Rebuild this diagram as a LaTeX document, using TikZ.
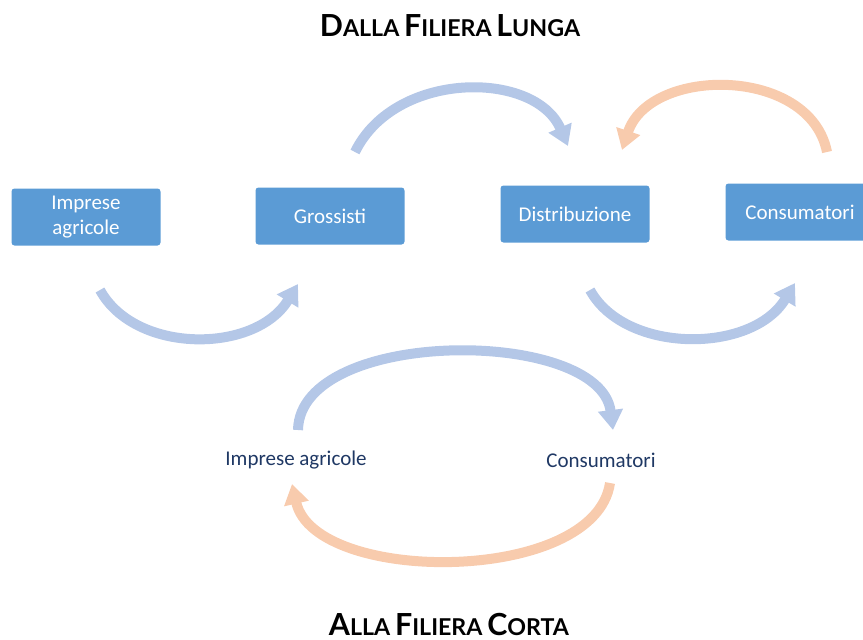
\documentclass[tikz,border=0pt]{standalone}
\usepackage{fontspec}
\setmainfont{Carlito}
\newfontfamily\latofont{Lato}
\usetikzlibrary{positioning}
\usetikzlibrary{arrows.meta}

\definecolor{boxblue}{HTML}{5B9BD5}
\definecolor{flowblue}{HTML}{B4C7E7}
\definecolor{floworange}{HTML}{F8CBAD}
\definecolor{navy}{HTML}{1F3864}

\newcommand\bigsmall[2]{{\fontsize{15.2}{16}\selectfont #1}{\fontsize{11.6}{13}\selectfont #2}}

\tikzset{
  box/.style={fill=boxblue, rounded corners=1.5pt, minimum width=74.5pt, minimum height=28.5pt,
    inner sep=0pt, text=white, align=center, font=\fontsize{10.5}{12.5}\selectfont},
  plain/.style={text=navy, font=\fontsize{10.5}{12.5}\selectfont},
  heading/.style={font=\latofont\bfseries, anchor=base},
  flow/.style={line width=5pt, -{Triangle[length=10pt,width=12pt]}}
}

\begin{document}
\begin{tikzpicture}[x=0.5pt, y=-0.5pt]
  \useasboundingbox (0,0) rectangle (863,639);

  \node[heading] (lunga) at (450,36) {\bigsmall{D}{ALLA} \bigsmall{F}{ILIERA} \bigsmall{L}{UNGA}};
  \node[heading] (corta) at (449,635) {\bigsmall{A}{LLA} \bigsmall{F}{ILIERA} \bigsmall{C}{ORTA}};

  \node[box] (imprese) at (86,217) {Imprese\\agricole};
  \node[box] (grossisti) at (330,216) {Grossisti};
  \node[box] (distrib) at (575,214) {Distribuzione};
  \node[box] (consum) at (800,212) {Consumatori};

  \node[plain] (impcorta) at (296,460) {Imprese agricole};
  \node[plain] (concorta) at (601,460) {Consumatori};

  % estremi delle frecce
  \coordinate (a1) at (100,290);   \coordinate (b1) at (298,284);
  \coordinate (a2) at (355,152);   \coordinate (b2) at (568,146);
  \coordinate (a3) at (590,290);   \coordinate (b3) at (795,283);
  \coordinate (a4) at (827,152);   \coordinate (b4) at (622,150);
  \coordinate (a5) at (298,430);   \coordinate (b5) at (613,430);
  \coordinate (a6) at (610,483);   \coordinate (b6) at (292,484);

  \draw[flow, flowblue] (a1) .. controls (135,354) and (255,354) .. (b1);
  \draw[flow, flowblue] (a2) .. controls (395,70) and (535,70) .. (b2);
  \draw[flow, flowblue] (a3) .. controls (625,354) and (752,354) .. (b3);
  \draw[flow, floworange] (a4) .. controls (810,66) and (650,66) .. (b4);
  \draw[flow, flowblue] (a5) .. controls (300,327) and (600,327) .. (b5);
  \draw[flow, floworange] (a6) .. controls (595,585) and (315,585) .. (b6);
\end{tikzpicture}
\end{document}
